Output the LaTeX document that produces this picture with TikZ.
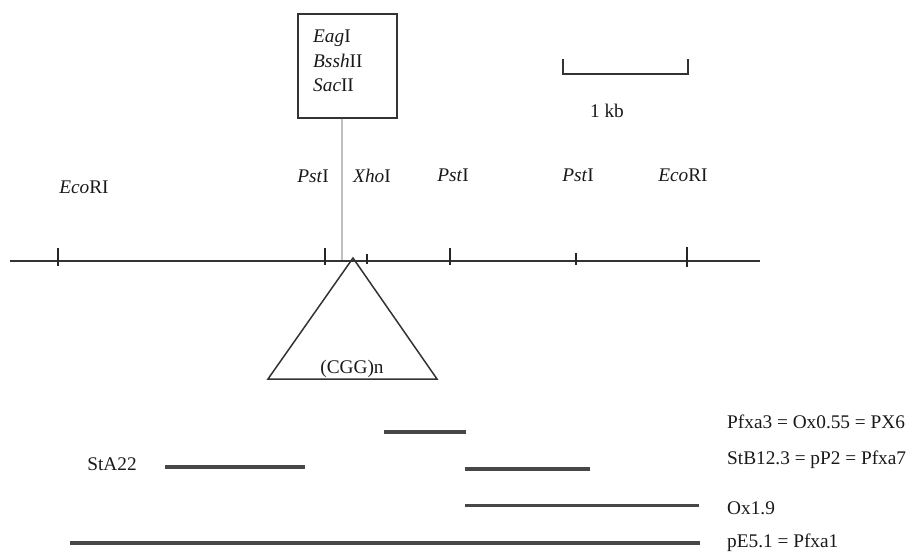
\documentclass[tikz,border=0pt]{standalone}
\usepackage{fontspec}
\setmainfont{Liberation Serif}
\begin{document}
\begin{tikzpicture}[x=1pt,y=-1pt,
  lbl/.style={inner sep=0pt,font=\fontsize{19.3}{22}\selectfont,text=black!90},
  mapline/.style={line width=2pt,draw=black!80},
  tick/.style={line width=1.6pt,draw=black!85},
  frag/.style={line width=4.5pt,draw=black!72},
  fragthin/.style={line width=3pt,draw=black!72}]
\useasboundingbox (0,0) rectangle (910,553);
% main map line
\coordinate (mL) at (10,261);
\coordinate (mR) at (760,261);
\draw[mapline] (mL) -- (mR);
% ticks
\draw[tick] (58,248) -- (58,266);
\draw[tick] (325,248) -- (325,265);
\draw[tick] (367,254) -- (367,264);
\draw[tick] (450,248) -- (450,265);
\draw[tick] (576,253) -- (576,265);
\draw[tick] (687,247) -- (687,267);
% site labels
\node[lbl,anchor=base] (eco1) at (84,194) {\textit{Eco}RI};
\node[lbl,anchor=base] (pst1) at (313,183) {\textit{Pst}I};
\node[lbl,anchor=base] (xho) at (372,183) {\textit{Xho}I};
\node[lbl,anchor=base] (pst2) at (453,182) {\textit{Pst}I};
\node[lbl,anchor=base] (pst3) at (578,182) {\textit{Pst}I};
\node[lbl,anchor=base] (eco2) at (683,182) {\textit{Eco}RI};
% box with enzymes
\node[draw=black!80,line width=1.3pt,minimum width=99pt,minimum height=104pt,inner sep=0pt] (box) at (347.5,66) {};
\node[lbl,anchor=base west] (eag) at (313,43) {\textit{Eag}I};
\node[lbl,anchor=base west] (bss) at (313,68) {\textit{Bssh}II};
\node[lbl,anchor=base west] (sac) at (313,92) {\textit{Sac}II};
\coordinate (gl) at (342,260);
\draw[line width=1.6pt,draw=black!25] (box.south -| gl) -- (gl);
% triangle
\coordinate (apex) at (353,258);
\coordinate (bl) at (268,379);
\coordinate (br) at (437,379);
\draw[line width=1.5pt,draw=black!80] (apex) -- (bl) -- (br) -- cycle;
\node[lbl,anchor=base] (cgg) at (352,373) {(CGG)n};
% scale bar
\coordinate (sbL) at (563,59);
\coordinate (sbR) at (688,59);
\draw[line width=1.6pt,draw=black!80] (sbL) -- (563,74) -- (688,74) -- (sbR);
\node[lbl,anchor=base] (kb) at (607,118) {1 kb};
% fragments
\coordinate (f1a) at (384,432); \coordinate (f1b) at (466,432);
\coordinate (f2a) at (165,467); \coordinate (f2b) at (305,467);
\coordinate (f3a) at (465,469); \coordinate (f3b) at (590,469);
\coordinate (f4a) at (465,505); \coordinate (f4b) at (699,505);
\coordinate (f5a) at (70,543); \coordinate (f5b) at (700,543);
\draw[frag] (f1a) -- (f1b);
\draw[frag] (f2a) -- (f2b);
\draw[frag] (f3a) -- (f3b);
\draw[fragthin] (f4a) -- (f4b);
\draw[frag] (f5a) -- (f5b);
\node[lbl,anchor=base] (sta) at (112,470) {StA22};
\node[lbl,anchor=base west] (l1) at (727,428) {Pfxa3 = Ox0.55 = PX6};
\node[lbl,anchor=base west] (l2) at (727,464) {StB12.3 = pP2 = Pfxa7};
\node[lbl,anchor=base west] (l3) at (727,514) {Ox1.9};
\node[lbl,anchor=base west] (l4) at (727,547) {pE5.1 = Pfxa1};
\end{tikzpicture}
\end{document}
